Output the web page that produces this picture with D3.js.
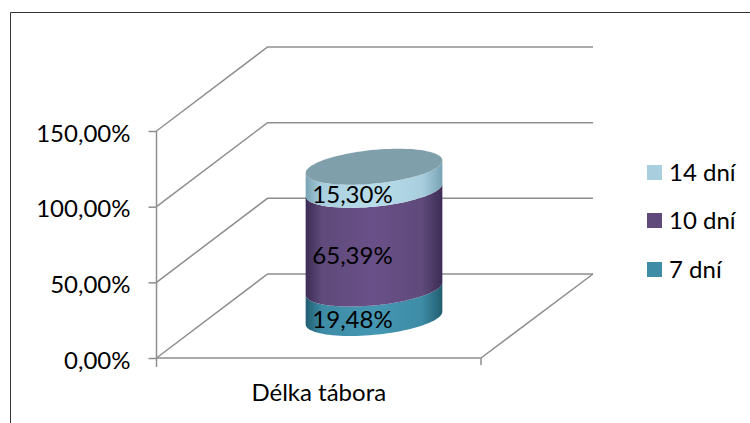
<!DOCTYPE html>
<html><head><meta charset="utf-8">
<script src="https://cdn.jsdelivr.net/npm/d3@7"></script>
<style>html,body{margin:0;padding:0;background:#fff}svg{display:block}text{font-family:Lato,"Open Sans",sans-serif;fill:#000}</style>
</head><body><svg id="c" width="750" height="423"></svg>
<script>
const seriesNames = ["7 dní", "10 dní", "14 dní"];
const seriesValues = [19.48, 65.39, 15.30];
const seriesColors = ["#3e8ca6", "#5f4a7b", "#a9cfdf"];
const darkColors = ["#215d70", "#3c2c54", "#78a3b4"];
const lightColors = ["#4597b3", "#6a5088", "#b8dce9"];
const yTicks = [0, 50, 100, 150];
const category = "Délka tábora";

const svg = d3.select("#c");
const y = d3.scaleLinear().domain([0, 150]).range([358, 131]);
const x = d3.scaleBand().domain([category]).range([156.5, 481]);
const depth = {x: 111, y: -84};
const grey = "#8e8e8e";
const fs = 24;

svg.append("path").attr("d", "M10.5,423V12.5H750")
  .attr("fill", "none").attr("stroke", "#333").attr("stroke-width", 1);

// floor and walls
const wall = svg.append("g").attr("fill", "none").attr("stroke", grey).attr("stroke-width", 1.5);
yTicks.forEach(t => {
  wall.append("polyline").attr("points",
    `156.5,${y(t)} ${156.5 + depth.x},${y(t) + depth.y} 593,${y(t) + depth.y}`);
});
wall.append("polyline").attr("points",
  `481,${y(0)} ${481 + 112},${y(0) + depth.y}`);

// axes
const ay = svg.append("g").attr("transform", "translate(156.5,0)")
  .call(d3.axisLeft(y).tickValues(yTicks).tickSize(8).tickPadding(18)
    .tickFormat(d => d3.format(".2f")(d).replace(".", ",") + "%"));
const ax = svg.append("g").attr("transform", `translate(0,${y(0)})`)
  .call(d3.axisBottom(x).tickSize(0).tickPadding(26));
[ay, ax].forEach(g => {
  g.selectAll(".domain").attr("stroke", grey).attr("stroke-width", 1.5);
  g.selectAll(".tick line").attr("stroke", grey).attr("stroke-width", 1.5);
  g.selectAll("text").style("font-family", "Lato").style("font-size", fs + "px").attr("fill", "#000");
});
ay.selectAll("text").attr("dy", "10px");
ay.select(".domain").attr("stroke", "none");
ay.append("line").attr("y1", y(0)).attr("y2", y(0) + 9).attr("stroke", grey).attr("stroke-width", 1.5);
ay.append("line").attr("y1", y(0)).attr("y2", y(150)).attr("stroke", grey).attr("stroke-width", 1.5);
ax.select(".domain").attr("d", `M156.5,0H481V7`);

// cylinder
const cx = 374;
const yVal = d3.scaleLinear().domain([0, 100]).range([318, 167]);
const ux = 64, vx = 24, vy = -18;
const t0 = Math.atan2(vx, ux);
const pt = (a, cy) => [cx + ux * Math.cos(a) + vx * Math.sin(a), cy + vy * Math.sin(a)];
const frontArc = (cy, rev) => {
  const n = 48, pts = [];
  for (let i = 0; i <= n; i++) {
    const a = t0 - Math.PI * (i / n);
    pts.push(pt(a, cy));
  }
  return rev ? pts.reverse() : pts;
};
const defs = svg.append("defs");
seriesColors.forEach((c, i) => {
  const g = defs.append("linearGradient").attr("id", "g" + i)
    .attr("gradientUnits", "userSpaceOnUse").attr("x1", cx - 68.5).attr("x2", cx + 68.5).attr("y1", 0).attr("y2", 0);
  [[0, darkColors[i]], [.12, c], [.5, lightColors[i]], [.85, c], [1, darkColors[i]]].forEach(s =>
    g.append("stop").attr("offset", s[0]).attr("stop-color", s[1]));
});
const line = d3.line();
let acc = 0;
const stacks = seriesValues.map(v => { const r = [acc, acc + v]; acc += v; return r; });
stacks.forEach((s, i) => {
  const pts = frontArc(yVal(s[1])).concat(frontArc(yVal(s[0]), true));
  svg.append("path").attr("d", line(pts) + "Z").attr("fill", `url(#g${i})`);
});
const topPts = d3.range(0, 97).map(i => pt(i / 96 * 2 * Math.PI, yVal(acc)));
svg.append("path").attr("d", line(topPts) + "Z").attr("fill", "#7f9fab");

// data labels
stacks.forEach((s, i) => {
  svg.append("text").attr("x", 352.5).attr("text-anchor", "middle")
    .attr("y", [328, 264, 203][i]).style("font-size", fs + "px")
    .text(seriesValues[i].toFixed(2).replace(".", ",") + "%");
});

// legend
seriesNames.slice().reverse().forEach((n, i) => {
  const ly = [172.5, 220.5, 269.5][i];
  svg.append("rect").attr("x", 647).attr("y", ly - 7.5).attr("width", 15).attr("height", 15)
    .attr("fill", seriesColors[2 - i]);
  svg.append("text").attr("x", 669).attr("y", ly + 8).style("font-size", fs + "px").text(n);
});
</script></body></html>
